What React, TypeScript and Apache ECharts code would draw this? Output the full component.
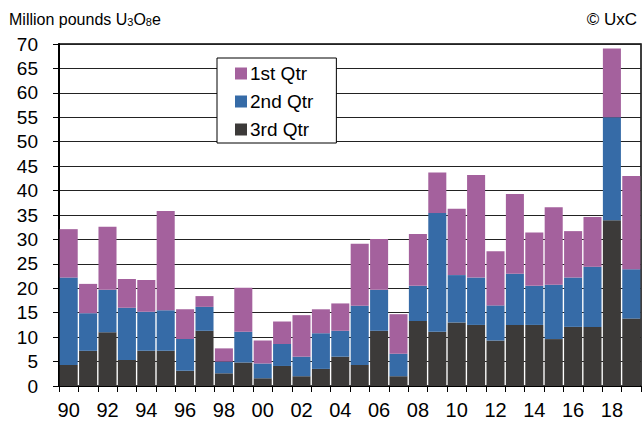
import React, { useEffect, useRef } from "react";
import * as echarts from "echarts";

const years = [
  "1990","1991","1992","1993","1994","1995","1996","1997","1998","1999",
  "2000","2001","2002","2003","2004","2005","2006","2007","2008","2009",
  "2010","2011","2012","2013","2014","2015","2016","2017","2018","2019",
];
const q3 = [4.3,7.2,11.0,5.3,7.2,7.2,3.1,11.3,2.6,4.8,1.6,4.1,2.0,3.5,6.0,4.3,11.3,2.0,13.3,11.1,13.0,12.5,9.3,12.5,12.5,9.6,12.1,12.1,33.9,13.8];
const q2 = [17.9,7.7,8.7,10.7,8.0,8.3,6.5,4.9,2.4,6.3,3.0,4.5,4.0,7.3,5.3,12.1,8.4,4.6,7.2,24.3,9.7,9.7,7.2,10.5,8.0,11.1,10.1,12.3,21.1,10.1];
const q1 = [9.9,6.0,12.9,5.9,6.5,20.3,6.1,2.2,2.7,9.0,4.7,4.6,8.5,4.9,5.6,12.7,10.4,8.1,10.6,8.3,13.6,21.0,11.1,16.3,10.9,15.9,9.5,10.2,14.1,19.1];

const FONT = "'Liberation Sans', Arial, sans-serif";

export default function App() {
  const ref = useRef<HTMLDivElement>(null);
  useEffect(() => {
    if (!ref.current) return;
    const chart = echarts.init(ref.current, undefined, { renderer: "svg" });
    chart.setOption({
      animation: false,
      backgroundColor: "#fff",
      textStyle: { fontFamily: FONT },
      graphic: [
        {
          type: "text",
          left: 9,
          top: 11,
          style: {
            text: "{a|Million pounds U}{s|3}{a|O}{s|8}{a|e}",
            rich: {
              a: { fontSize: 16, fontFamily: FONT, fill: "#000", verticalAlign: "bottom", lineHeight: 17 },
              s: { fontSize: 11, fontFamily: FONT, fill: "#000", verticalAlign: "bottom", lineHeight: 15 },
            },
          },
        },
        {
          type: "text",
          right: 5,
          top: 11,
          style: { text: "© UxC", fontSize: 17, fontFamily: FONT, fill: "#000" },
        },
      ],
      legend: {
        data: ["1st Qtr", "2nd Qtr", "3rd Qtr"],
        orient: "vertical",
        left: 217,
        top: 58,
        padding: [6, 23, 4, 18],
        borderColor: "#000",
        borderWidth: 1,
        backgroundColor: "#fff",
        icon: "rect",
        itemWidth: 12,
        itemHeight: 12,
        itemGap: 9,
        textStyle: { fontSize: 19, fontFamily: FONT, color: "#000", padding: [0, 0, 0, -2], lineHeight: 19 },
      },
      grid: {
        left: 59,
        right: 1,
        top: 44,
        bottom: 37,
        show: true,
        borderColor: "#000",
        borderWidth: 1.5,
      },
      xAxis: {
        type: "category",
        data: years,
        axisLine: { show: true, lineStyle: { color: "#000", width: 1 } },
        axisTick: { show: true, interval: 0, length: 6, lineStyle: { color: "#000" } },
        axisLabel: {
          interval: 1,
          formatter: (v: string) => v.slice(2),
          fontSize: 20,
          color: "#000",
          margin: 14,
          fontFamily: FONT,
        },
      },
      yAxis: {
        type: "value",
        min: 0,
        max: 70,
        interval: 5,
        axisLine: { show: true, lineStyle: { color: "#000", width: 2 } },
        axisTick: { show: true, length: 6, lineStyle: { color: "#000" } },
        axisLabel: { fontSize: 19, color: "#000", margin: 21, fontFamily: FONT },
        splitLine: { show: true, lineStyle: { color: "#222", width: 1 } },
      },
      series: [
        {
          name: "3rd Qtr",
          type: "bar",
          stack: "q",
          data: q3,
          barCategoryGap: "7%",
          itemStyle: { color: "#3c3a39" },
        },
        {
          name: "2nd Qtr",
          type: "bar",
          stack: "q",
          data: q2,
          barCategoryGap: "7%",
          itemStyle: { color: "#366ba7" },
        },
        {
          name: "1st Qtr",
          type: "bar",
          stack: "q",
          data: q1,
          barCategoryGap: "7%",
          itemStyle: { color: "#a4619d" },
        },
      ],
    });
    return () => chart.dispose();
  }, []);
  return <div ref={ref} style={{ width: 642, height: 423, position: "absolute", left: 0, top: 0 }} />;
}
